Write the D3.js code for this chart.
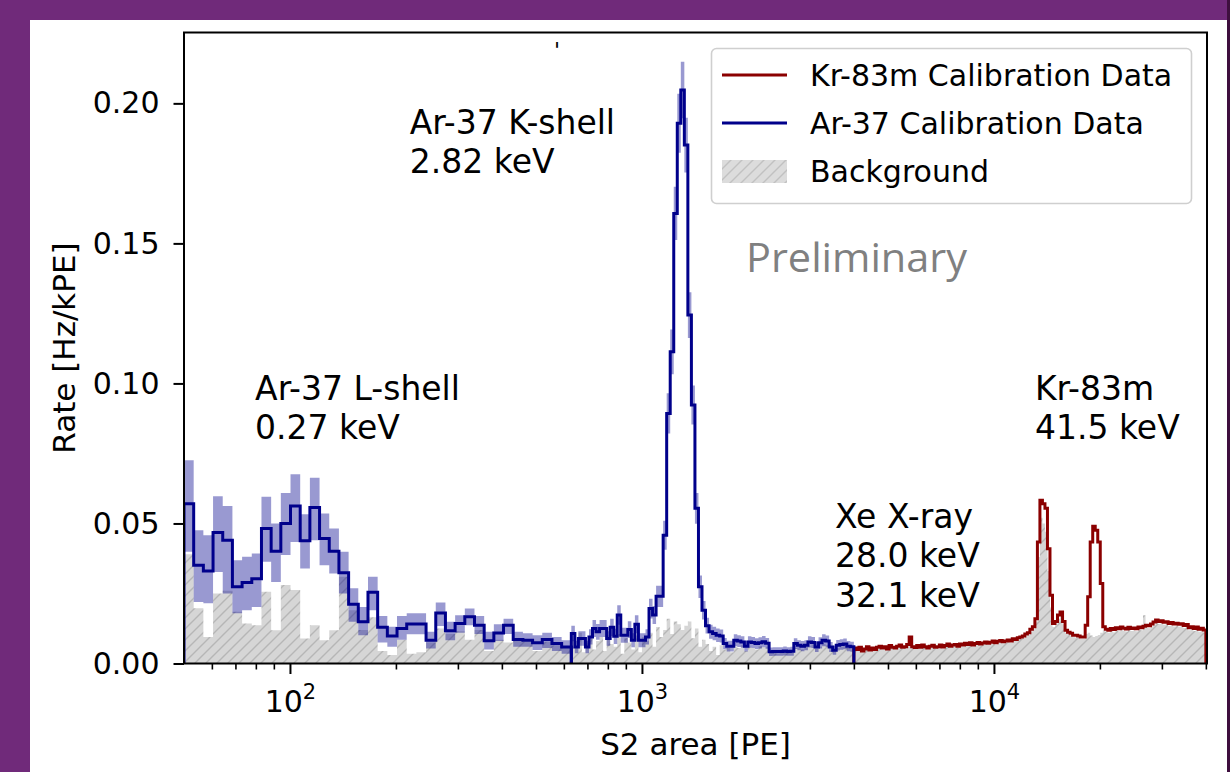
<!DOCTYPE html>
<html><head><meta charset="utf-8">
<script src="https://cdn.jsdelivr.net/npm/d3@7"></script>
<style>html,body{margin:0;padding:0;background:#702a7a;overflow:hidden}svg{display:block}</style>
</head><body>
<svg id="chart" width="1230" height="772"></svg>
<script>
// ---------------- data ----------------
const xDomain = [50, 40300];
const yDomain = [0, 0.2253];
const yTicks = [0, 0.05, 0.10, 0.15, 0.20];
const yTickLabels = ["0.00", "0.05", "0.10", "0.15", "0.20"];
const xMajorTicks = [100, 1000, 10000];
const xMajorExponents = ["2", "3", "4"];
const xMinorTicks = [60, 70, 80, 90, 200, 300, 400, 500, 600, 700, 800, 900,
  2000, 3000, 4000, 5000, 6000, 7000, 8000, 9000, 20000, 30000, 40000];

// histogram ranges [start PE, end PE, number of log bins]
const ar37LowRange = [50, 630, 40];
const ar37HighRange = [630, 4000, 80];
const kr83Range = [4000, 40000, 140];

// Ar-37, 50-630 PE
const ar37LowRate = [0.057, 0.0351, 0.033, 0.0468, 0.044, 0.0274, 0.0289, 0.0303, 0.0482, 0.0401,
  0.050, 0.0562, 0.0438, 0.0557, 0.0446, 0.0401, 0.0324, 0.0212, 0.0149, 0.0254,
  0.0129, 0.0098, 0.0125, 0.0141, 0.0141, 0.0083, 0.0180, 0.0117, 0.0143, 0.0167,
  0.0137, 0.0081, 0.0109, 0.0137, 0.0086, 0.0083, 0.0074, 0.0086, 0.0071, 0.0059];
const ar37LowUpper = [0.0726, 0.0476, 0.0458, 0.0597, 0.0562, 0.0369, 0.0381, 0.0393, 0.0595, 0.050,
  0.0609, 0.0676, 0.0533, 0.0663, 0.0536, 0.0482, 0.0399, 0.0269, 0.0202, 0.031,
  0.017, 0.0131, 0.0170, 0.0179, 0.0179, 0.0113, 0.0218, 0.0149, 0.0172, 0.0196,
  0.0170, 0.0113, 0.0140, 0.0160, 0.0113, 0.0108, 0.0101, 0.0110, 0.0095, 0.0083];
const ar37LowLower = [0.0399, 0.022, 0.0215, 0.0327, 0.025, 0.0179, 0.019, 0.0202, 0.0363, 0.0291,
  0.0387, 0.0434, 0.0339, 0.044, 0.0351, 0.0321, 0.025, 0.0149, 0.0101, 0.019,
  0.0075, 0.006, 0.0085, 0.0104, 0.0104, 0.0054, 0.0134, 0.0083, 0.0110, 0.0137,
  0.0105, 0.0050, 0.0080, 0.0105, 0.0060, 0.0060, 0.0048, 0.0055, 0.0045, 0.0035];
const ar37LowBkg = [0.039, 0.0197, 0.0095, 0.025, 0.026, 0.0185, 0.0143, 0.0137, 0.0256, 0.0119,
  0.028, 0.0262, 0.0089, 0.0137, 0.0083, 0.0119, 0.031, 0.019, 0.012, 0.0165,
  0.0045, 0.003, 0.0085, 0.0035, 0.004, 0.0075, 0.0125, 0.0105, 0.0115, 0.0085,
  0.012, 0.0045, 0.0085, 0.0075, 0.0085, 0.0078, 0.0045, 0.0078, 0.0065, 0.0055];

// Ar-37, 630-4000 PE
const ar37HighRate = [0.0107, 0.0059, 0.0089, 0.0089, 0.0059, 0.0095, 0.0125, 0.0113, 0.0125, 0.0125,
  0.0089, 0.0129, 0.0097, 0.0173, 0.0101, 0.0101, 0.0121, 0.0083, 0.0140, 0.0083,
  0.0083, 0.0095, 0.0196, 0.0173, 0.0240, 0.0240, 0.0458, 0.0893, 0.1113, 0.1607,
  0.1929, 0.2048, 0.1851, 0.1244, 0.0923, 0.0554, 0.0274, 0.0190, 0.0135, 0.0113,
  0.0107, 0.0101, 0.0098, 0.0071, 0.0062, 0.0062, 0.0083, 0.0080, 0.0077, 0.0062,
  0.0077, 0.0075, 0.0071, 0.0074, 0.0078, 0.0072, 0.0042, 0.0043, 0.0043, 0.0043,
  0.0045, 0.0043, 0.0044, 0.0071, 0.0065, 0.0062, 0.0065, 0.0077, 0.0075, 0.0059,
  0.0074, 0.0083, 0.0080, 0.0059, 0.0047, 0.0065, 0.0068, 0.0070, 0.0062, 0.0060];
const ar37HighErr = [0.0028, 0.0022, 0.0026, 0.0026, 0.0022, 0.0027, 0.0030, 0.0028, 0.0030, 0.0030,
  0.0026, 0.0031, 0.0027, 0.0035, 0.0027, 0.0027, 0.0030, 0.0025, 0.0032, 0.0025,
  0.0025, 0.0027, 0.0035, 0.0032, 0.0038, 0.0038, 0.0052, 0.0072, 0.0080, 0.0095,
  0.0105, 0.0101, 0.0098, 0.0082, 0.0070, 0.0055, 0.0040, 0.0033, 0.0028, 0.0025,
  0.0024, 0.0024, 0.0023, 0.0020, 0.0019, 0.0019, 0.0021, 0.0021, 0.0020, 0.0019,
  0.0020, 0.0020, 0.0019, 0.0020, 0.0020, 0.0019, 0.0015, 0.0015, 0.0015, 0.0015,
  0.0016, 0.0015, 0.0016, 0.0019, 0.0018, 0.0018, 0.0018, 0.0020, 0.0020, 0.0018,
  0.0020, 0.0021, 0.0020, 0.0018, 0.0016, 0.0019, 0.0019, 0.0019, 0.0018, 0.0018];
const ar37HighBkg = [0.0085, 0.0060, 0.0110, 0.0040, 0.0075, 0.0090, 0.0050, 0.0080, 0.0095, 0.0045,
  0.0100, 0.0070, 0.0060, 0.0105, 0.0035, 0.0090, 0.0075, 0.0050, 0.0100, 0.0040,
  0.0095, 0.0080, 0.0110, 0.0060, 0.0130, 0.0095, 0.0120, 0.0160, 0.0105, 0.0150,
  0.0140, 0.0120, 0.0135, 0.0150, 0.0090, 0.0125, 0.0060, 0.0085, 0.0070, 0.0045,
  0.0060, 0.0030, 0.0065, 0.0050, 0.0055, 0.0040, 0.0060, 0.0055, 0.0065, 0.0045,
  0.0060, 0.0055, 0.0050, 0.0062, 0.0058, 0.0060, 0.0038, 0.0040, 0.0036, 0.0040,
  0.0042, 0.0038, 0.0041, 0.0055, 0.0058, 0.0050, 0.0060, 0.0062, 0.0068, 0.0052,
  0.0060, 0.0070, 0.0065, 0.0050, 0.0044, 0.0055, 0.0060, 0.0062, 0.0055, 0.0050];

// Kr-83m, 4000-40000 PE
const kr83Rate = [0.0055, 0.0050, 0.0058, 0.0045, 0.0052, 0.0060, 0.0048, 0.0055, 0.0050, 0.0058,
  0.0062, 0.0055, 0.0060, 0.0052, 0.0064, 0.0058, 0.0055, 0.0062, 0.0066, 0.0058,
  0.0060, 0.0068, 0.0095, 0.0060, 0.0057, 0.0064, 0.0058, 0.0066, 0.0060, 0.0055,
  0.0062, 0.0065, 0.0058, 0.0060, 0.0066, 0.0059, 0.0064, 0.0070, 0.0062, 0.0066,
  0.0068, 0.0062, 0.0070, 0.0066, 0.0072, 0.0068, 0.0074, 0.0066, 0.0071, 0.0075,
  0.0070, 0.0073, 0.0077, 0.0072, 0.0076, 0.0080, 0.0074, 0.0079, 0.0082, 0.0078,
  0.0080, 0.0084, 0.0080, 0.0088, 0.0086, 0.0092, 0.0095, 0.0098, 0.0105, 0.0110,
  0.0122, 0.0131, 0.0160, 0.0434, 0.0583, 0.0570, 0.0554, 0.0410, 0.0244, 0.0143,
  0.0150, 0.0173, 0.0184, 0.0150, 0.0119, 0.0112, 0.0108, 0.0101, 0.0101, 0.0098,
  0.0095, 0.0095, 0.0137, 0.0238, 0.0434, 0.0490, 0.0476, 0.0434, 0.0286, 0.0131,
  0.0122, 0.0119, 0.0125, 0.0121, 0.0128, 0.0124, 0.0130, 0.0126, 0.0123, 0.0129,
  0.0125, 0.0127, 0.0124, 0.0130, 0.0128, 0.0133, 0.0137, 0.0135, 0.0141, 0.0148,
  0.0155, 0.0150, 0.0153, 0.0147, 0.0149, 0.0143, 0.0146, 0.0141, 0.0144, 0.0140,
  0.0142, 0.0136, 0.0139, 0.0128, 0.0131, 0.0125, 0.0130, 0.0122, 0.0126, 0.0120];
const kr83Bkg = [0.0050, 0.0046, 0.0052, 0.0041, 0.0048, 0.0054, 0.0044, 0.0050, 0.0047, 0.0053,
  0.0057, 0.0050, 0.0055, 0.0048, 0.0058, 0.0053, 0.0051, 0.0057, 0.0060, 0.0053,
  0.0055, 0.0062, 0.0066, 0.0055, 0.0052, 0.0059, 0.0053, 0.0060, 0.0055, 0.0051,
  0.0057, 0.0060, 0.0053, 0.0055, 0.0061, 0.0054, 0.0059, 0.0064, 0.0057, 0.0061,
  0.0063, 0.0057, 0.0064, 0.0061, 0.0066, 0.0063, 0.0068, 0.0061, 0.0065, 0.0069,
  0.0065, 0.0067, 0.0071, 0.0066, 0.0070, 0.0074, 0.0068, 0.0073, 0.0076, 0.0072,
  0.0074, 0.0078, 0.0074, 0.0081, 0.0080, 0.0085, 0.0088, 0.0091, 0.0097, 0.0102,
  0.0113, 0.0122, 0.0150, 0.0380, 0.0520, 0.0500, 0.0470, 0.0330, 0.0200, 0.0130,
  0.0140, 0.0160, 0.0172, 0.0140, 0.0110, 0.0104, 0.0100, 0.0094, 0.0093, 0.0090,
  0.0088, 0.0088, 0.0105, 0.0110, 0.0100, 0.0095, 0.0098, 0.0102, 0.0110, 0.0118,
  0.0113, 0.0110, 0.0116, 0.0112, 0.0119, 0.0115, 0.0121, 0.0117, 0.0114, 0.0120,
  0.0116, 0.0118, 0.0115, 0.0121, 0.0119, 0.0172, 0.0128, 0.0126, 0.0132, 0.0139,
  0.0146, 0.0141, 0.0144, 0.0138, 0.0140, 0.0134, 0.0137, 0.0132, 0.0135, 0.0131,
  0.0133, 0.0127, 0.0130, 0.0119, 0.0122, 0.0116, 0.0121, 0.0113, 0.0117, 0.0111];

const legendLabels = ["Kr-83m Calibration Data", "Ar-37 Calibration Data", "Background"];
const annotations = [
  {lines: ["Ar-37 K-shell", "2.82 keV"], pe: 219, rate: 0.1891},
  {lines: ["Ar-37 L-shell", "0.27 keV"], pe: 79.6, rate: 0.0941},
  {lines: ["Xe X-ray", "28.0 keV", "32.1 keV"], pe: 3535, rate: 0.0484},
  {lines: ["Kr-83m", "41.5 keV"], pe: 13080, rate: 0.0941}
];

// ---------------- layout ----------------
const svg = d3.select("#chart");
const L = 184, R = 1207, T = 32.5, B = 663.5;
const x = d3.scaleLog().domain(xDomain).range([L, R]);
const y = d3.scaleLinear().domain(yDomain).range([B, T]);
const FONT = "DejaVu Sans, Verdana, sans-serif";
const RED = "#8b0000", BLUE = "#00008b";

// slide frame
svg.append("rect").attr("x", 0).attr("y", 0).attr("width", 1230).attr("height", 772).attr("fill", "#702a7a");
svg.append("rect").attr("x", 30).attr("y", 20).attr("width", 1197).attr("height", 752).attr("fill", "#ffffff");
svg.append("rect").attr("x", 1227).attr("y", 0).attr("width", 3).attr("height", 772).attr("fill", "#3e0f3e");

const defs = svg.append("defs");
const pat = defs.append("pattern").attr("id", "hatch").attr("patternUnits", "userSpaceOnUse")
  .attr("width", 11).attr("height", 11);
pat.append("rect").attr("width", 11).attr("height", 11).attr("fill", "#d6d6d6");
pat.append("path").attr("d", "M-2,2 L2,-2 M0,11 L11,0 M9,13 L13,9")
  .attr("stroke", "#b6b6b6").attr("stroke-width", 1.4);
defs.append("clipPath").attr("id", "plotclip").append("rect")
  .attr("x", L).attr("y", T).attr("width", R - L).attr("height", B - T);

function edges(range) {
  const [a, b, n] = range;
  return d3.range(n + 1).map(i => a * Math.pow(b / a, i / n));
}
function stepPoints(range, vals) {
  const e = edges(range);
  const pts = [[e[0], 0]];
  vals.forEach((v, i) => { pts.push([e[i], v]); pts.push([e[i + 1], v]); });
  pts.push([e[e.length - 1], 0]);
  return pts;
}
function bandPoints(range, lo, hi) {
  const e = edges(range);
  const pts = [];
  lo.forEach((v, i) => { pts.push([e[i], lo[i], hi[i]]); pts.push([e[i + 1], lo[i], hi[i]]); });
  return pts;
}
const line = d3.line().x(d => x(d[0])).y(d => y(d[1]));
const areaBkg = d3.area().x(d => x(d[0])).y0(y(0)).y1(d => y(d[1]));
const areaBand = d3.area().x(d => x(d[0])).y0(d => y(d[1])).y1(d => y(d[2]));

const plot = svg.append("g").attr("clip-path", "url(#plotclip)");

// background (hatched)
[[ar37LowRange, ar37LowBkg], [ar37HighRange, ar37HighBkg], [kr83Range, kr83Bkg]].forEach(([r, v]) => {
  plot.append("path").attr("d", areaBkg(stepPoints(r, v))).attr("fill", "url(#hatch)");
});

// error bands
plot.append("path").attr("d", areaBand(bandPoints(ar37LowRange, ar37LowLower, ar37LowUpper)))
  .attr("fill", BLUE).attr("fill-opacity", 0.4);
plot.append("path").attr("d", areaBand(bandPoints(ar37HighRange,
    ar37HighRate.map((v, i) => v - ar37HighErr[i]), ar37HighRate.map((v, i) => v + ar37HighErr[i]))))
  .attr("fill", BLUE).attr("fill-opacity", 0.4);

// step lines
plot.append("path").attr("d", line(stepPoints(kr83Range, kr83Rate)))
  .attr("fill", "none").attr("stroke", RED).attr("stroke-width", 3).attr("stroke-linejoin", "miter");
[[ar37LowRange, ar37LowRate], [ar37HighRange, ar37HighRate]].forEach(([r, v]) => {
  plot.append("path").attr("d", line(stepPoints(r, v)))
    .attr("fill", "none").attr("stroke", BLUE).attr("stroke-width", 3).attr("stroke-linejoin", "miter");
});

// axes
const yAxis = d3.axisLeft(y).tickValues(yTicks).tickFormat((d, i) => yTickLabels[i])
  .tickSize(10.5).tickPadding(14).tickSizeOuter(0);
const gy = svg.append("g").attr("transform", `translate(${L},0)`).call(yAxis);
gy.select(".domain").remove();
gy.selectAll(".tick line").attr("stroke", "#000").attr("stroke-width", 2);
gy.selectAll(".tick text").attr("font-family", FONT).attr("font-size", 30).attr("fill", "#000");

const xMinor = d3.axisBottom(x).tickValues(xMinorTicks).tickFormat(() => "").tickSize(6).tickSizeOuter(0);
const gxm = svg.append("g").attr("transform", `translate(0,${B})`).call(xMinor);
gxm.select(".domain").remove();
gxm.selectAll(".tick line").attr("stroke", "#000").attr("stroke-width", 1.6);

const xAxis = d3.axisBottom(x).tickValues(xMajorTicks).tickFormat(() => "").tickSize(10.5).tickSizeOuter(0);
const gx = svg.append("g").attr("transform", `translate(0,${B})`).call(xAxis);
gx.select(".domain").remove();
gx.selectAll(".tick line").attr("stroke", "#000").attr("stroke-width", 2);
gx.selectAll(".tick text").each(function (d, i) {
  const t = d3.select(this).text(null).attr("y", 48).attr("dy", 0)
    .attr("font-family", FONT).attr("font-size", 30).attr("fill", "#000");
  t.append("tspan").text("10");
  t.append("tspan").attr("dy", -13).attr("font-size", 21).text(xMajorExponents[i]);
});

// frame
svg.append("rect").attr("x", L).attr("y", T).attr("width", R - L).attr("height", B - T)
  .attr("fill", "none").attr("stroke", "#000").attr("stroke-width", 2);

// axis labels
svg.append("text").attr("x", (L + R) / 2).attr("y", 755).attr("text-anchor", "middle")
  .attr("font-family", FONT).attr("font-size", 31).text("S2 area [PE]");
svg.append("text").attr("transform", "translate(75,348) rotate(-90)").attr("text-anchor", "middle")
  .attr("font-family", FONT).attr("font-size", 31).text("Rate [Hz/kPE]");

// annotations
annotations.forEach(a => {
  const t = svg.append("text").attr("font-family", FONT).attr("font-size", 33).attr("fill", "#000");
  a.lines.forEach((s, i) => {
    t.append("tspan").attr("x", x(a.pe)).attr("y", y(a.rate) + i * 39.5).text(s);
  });
});

// Preliminary watermark
svg.append("text").attr("x", 746).attr("y", 272).attr("font-family", "Open Sans, sans-serif")
  .attr("font-size", 40).attr("fill", "#808080").attr("textLength", 221)
  .attr("lengthAdjust", "spacingAndGlyphs").text("Preliminary");

// small stray mark above plot
svg.append("text").attr("x", 554).attr("y", 58).attr("font-family", FONT).attr("font-size", 22)
  .attr("fill", "#000").text("'");

// legend
const lg = svg.append("g");
lg.append("rect").attr("x", 711.5).attr("y", 48.5).attr("width", 480).attr("height", 155)
  .attr("rx", 5).attr("fill", "#fff").attr("fill-opacity", 0.85).attr("stroke", "#cfcfcf").attr("stroke-width", 1.6);
const rowsY = [75, 123, 171];
lg.append("line").attr("x1", 722).attr("x2", 787).attr("y1", rowsY[0]).attr("y2", rowsY[0])
  .attr("stroke", RED).attr("stroke-width", 3);
lg.append("line").attr("x1", 722).attr("x2", 787).attr("y1", rowsY[1]).attr("y2", rowsY[1])
  .attr("stroke", BLUE).attr("stroke-width", 3);
lg.append("rect").attr("x", 722).attr("y", 160).attr("width", 65).attr("height", 23)
  .attr("fill", "url(#hatch)").attr("opacity", 0.85);
legendLabels.forEach((s, i) => {
  lg.append("text").attr("x", 810).attr("y", rowsY[i] + 11).attr("font-family", FONT)
    .attr("font-size", 30).attr("fill", "#000").text(s);
});
</script>
</body></html>
